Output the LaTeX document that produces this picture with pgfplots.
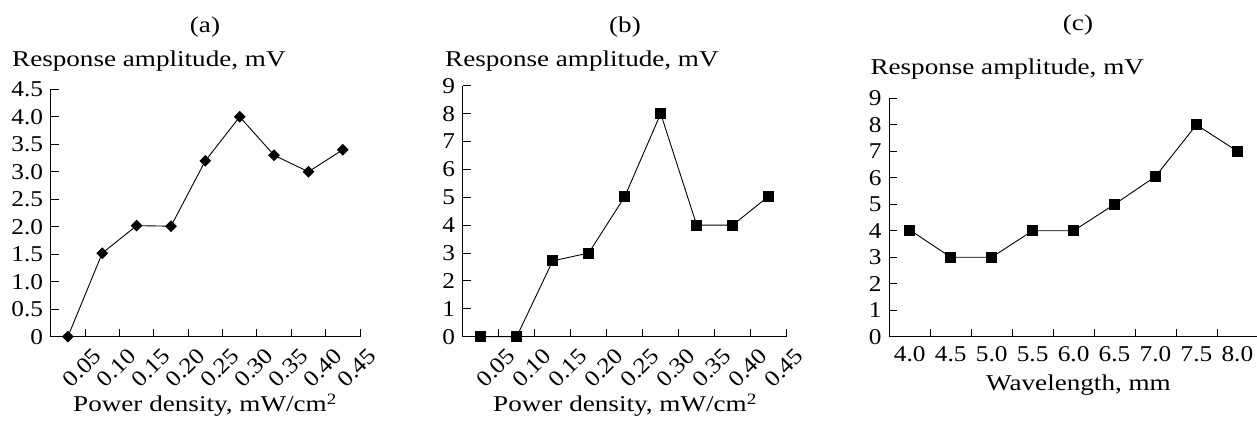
\documentclass[border=0pt]{standalone}
\usepackage{pgfplots}
\pgfplotsset{compat=1.18}
\usepackage{fontspec}
\setmainfont{Liberation Serif}[FakeStretch=1.2]
\newfontfamily\digits{Liberation Serif}[FakeStretch=1.12]
\newcommand\tf{\fontsize{22.6bp}{26bp}\selectfont}
\newcommand\df{\fontsize{22.6bp}{26bp}\digits}
\pgfplotsset{
 panel/.style={
  scale only axis, clip=false,
  axis x line=bottom, axis y line=left,
  axis line style={-, line width=0.9bp},
  tick align=inside, major tick length=8bp,
  tick style={black, line width=0.9bp},
  xmin=0.5, xmax=9.5, ymin=0,
  xtick={1.5,2.5,3.5,4.5,5.5,6.5,7.5,8.5,9.5},
  tick label style={font=\df},
  yticklabel style={anchor=east, inner sep=0pt, xshift=-7.5bp},
  every axis plot/.append style={black, line width=0.9bp},
 },
 rotlab/.style={xticklabel style={anchor=center, inner sep=0pt, xshift=-3bp, yshift=-31bp, rotate=45}},
}
\begin{document}
\begin{tikzpicture}
\useasboundingbox (0,0) rectangle (1257bp,422bp);
% (a)
\begin{axis}[panel, rotlab, at={(50.7bp,85.3bp)}, anchor=south west,
  width=309.3bp, height=247.4bp, ymax=4.5,
  ytick={0,0.5,1,1.5,2,2.5,3,3.5,4,4.5},
  yticklabels={0,0.5,1.0,1.5,2.0,2.5,3.0,3.5,4.0,4.5},
  xticklabels={0.05,0.10,0.15,0.20,0.25,0.30,0.35,0.40,0.45}]
\addplot[mark=square*, mark size=3.7bp, mark options={rotate=45, solid, fill=black}] coordinates {
(1,0) (2,1.52) (3,2.02) (4,2.01) (5,3.2) (6,4.0) (7,3.3) (8,3.0) (9,3.4)};
\end{axis}
% (b)
\begin{axis}[panel, rotlab, at={(462.7bp,85.3bp)}, anchor=south west,
  width=324bp, height=251bp, ymax=9,
  ytick={0,1,2,3,4,5,6,7,8,9},
  yticklabels={0,1,2,3,4,5,6,7,8,9},
  xticklabels={0.05,0.10,0.15,0.20,0.25,0.30,0.35,0.40,0.45}]
\addplot[mark=square*, mark size=5bp, mark options={solid, fill=black}] coordinates {
(1,0) (2,0) (3,2.72) (4,3.0) (5,5.02) (6,8.0) (7,4.0) (8,4.0) (9,5.04)};
\end{axis}
% (c)
\begin{axis}[panel, at={(889.3bp,85.3bp)}, anchor=south west,
  width=368.6bp, height=238.4bp, ymax=9,
  ytick={0,1,2,3,4,5,6,7,8,9},
  yticklabels={0,1,2,3,4,5,6,7,8,9},
  xticklabels={4.0,4.5,5.0,5.5,6.0,6.5,7.0,7.5,8.0},
  xticklabel style={anchor=base, inner sep=0pt, xshift=-20.5bp, yshift=-25bp}]
\addplot[mark=square*, mark size=5bp, mark options={solid, fill=black}] coordinates {
(1,4.03) (2,3.0) (3,3.0) (4,4.0) (5,4.0) (6,5.0) (7,6.05) (8,8.0) (9,7.0)};
\end{axis}
% titles and labels
\node[font=\tf, anchor=base] at (205bp,389.5bp) {(a)};
\node[font=\tf, anchor=base] at (625bp,389.5bp) {(b)};
\node[font=\tf, anchor=base] at (1078bp,391bp) {(c)};
\node[font=\tf, anchor=base west, inner sep=0pt] at (12bp,355.3bp) {Response amplitude, mV};
\node[font=\tf, anchor=base west, inner sep=0pt] at (445bp,355.3bp) {Response amplitude, mV};
\node[font=\tf, anchor=base west, inner sep=0pt] at (870.3bp,347bp) {Response amplitude, mV};
\node[font=\tf, anchor=base, inner sep=0pt] at (205bp,10.5bp) {Power density, mW/cm\textsuperscript{2}};
\node[font=\tf, anchor=base, inner sep=0pt] at (625bp,10.5bp) {Power density, mW/cm\textsuperscript{2}};
\node[font=\tf, anchor=base, inner sep=0pt] at (1078.5bp,32bp) {Wavelength, mm};
\end{tikzpicture}
\end{document}
